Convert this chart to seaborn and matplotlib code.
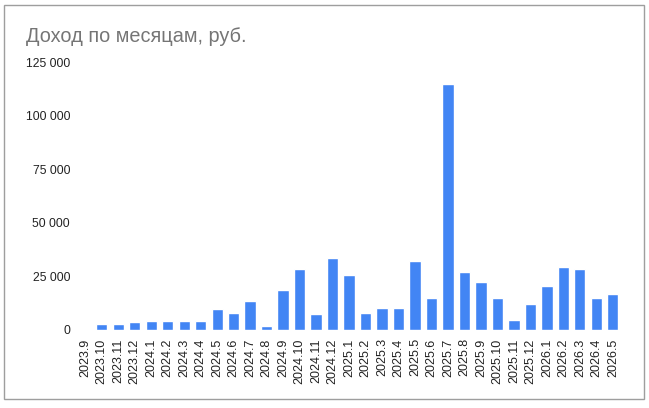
import matplotlib
matplotlib.use("Agg")
import matplotlib.pyplot as plt
import matplotlib.ticker as mticker
from matplotlib.patches import Rectangle
import seaborn as sns
import pandas as pd

months = ['2023.9', '2023.10', '2023.11', '2023.12',
          '2024.1', '2024.2', '2024.3', '2024.4', '2024.5', '2024.6',
          '2024.7', '2024.8', '2024.9', '2024.10', '2024.11', '2024.12',
          '2025.1', '2025.2', '2025.3', '2025.4', '2025.5', '2025.6',
          '2025.7', '2025.8', '2025.9', '2025.10', '2025.11', '2025.12',
          '2026.1', '2026.2', '2026.3', '2026.4', '2026.5']
income = [0, 2800, 2800, 3700,
          4200, 4200, 4200, 4200, 9800, 7900,
          13500, 1900, 18700, 28400, 7500, 33600,
          25600, 7900, 10300, 10300, 32200, 14900,
          114700, 27000, 22400, 14900, 4700, 12100,
          20500, 29400, 28400, 14900, 16800]
y_ticks = [0, 25000, 50000, 75000, 100000, 125000]

df = pd.DataFrame({'month': months, 'income': income})

sns.set_style("white")
plt.rcParams['font.family'] = ['Liberation Sans', 'DejaVu Sans']

fig = plt.figure(figsize=(6.49, 4.08), dpi=100)
ax = fig.add_axes([0.1186, 0.1912, 0.8384, 0.6568])

sns.barplot(data=df, x='month', y='income', color='#4285F4', saturation=1,
            width=0.68, ax=ax)

ax.set_ylim(0, 125000)
ax.set_xlim(-0.5, len(months) - 0.5)
ax.set_yticks(y_ticks)
ax.yaxis.set_major_formatter(mticker.FuncFormatter(
    lambda v, p: f"{int(v):,}".replace(",", " ")))
ax.tick_params(axis='y', labelsize=8.7, colors='#222222', length=0, pad=5)
ax.tick_params(axis='x', labelsize=9, colors='#222222', length=0, pad=6,
               rotation=90)
ax.set_xlabel('')
ax.set_ylabel('')
sns.despine(ax=ax, left=True, bottom=True)

fig.text(0.040, 0.91, 'Доход по месяцам, руб.', fontsize=14.3,
         color='#757575', va='center', ha='left')

fig.patches.append(Rectangle((4 / 649, 1 - 399 / 408), 640 / 649, 394 / 408,
                             transform=fig.transFigure, fill=False,
                             edgecolor='#9e9e9e', linewidth=1))

fig.savefig('out.png', dpi=100)
